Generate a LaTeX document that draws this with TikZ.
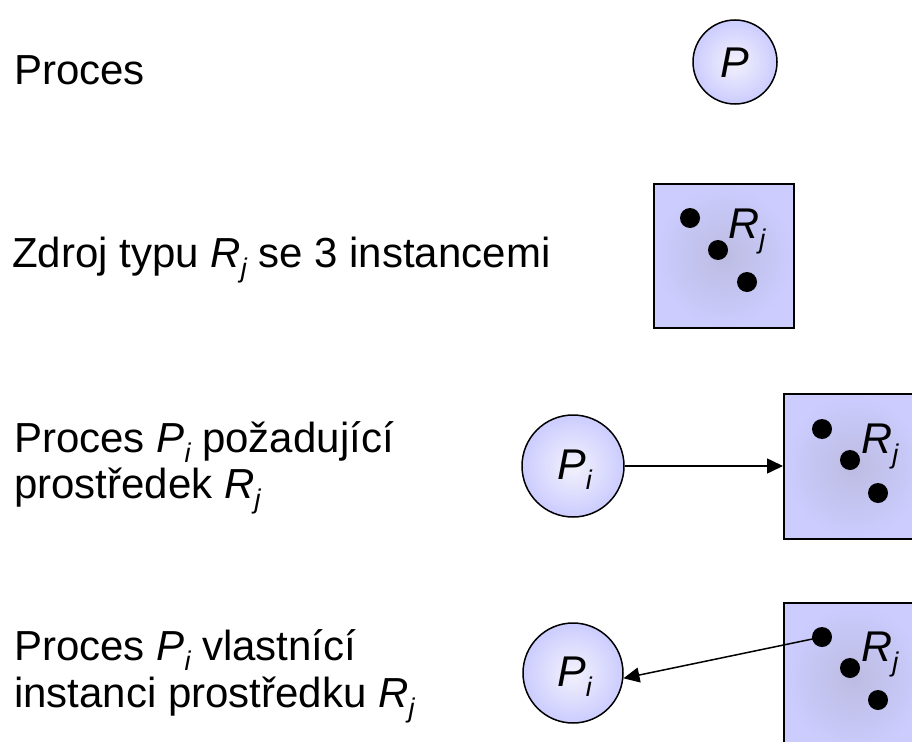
\documentclass[tikz,border=0pt]{standalone}
\usepackage{fontspec}
\setmainfont{Liberation Sans}
\usetikzlibrary{arrows.meta}
\definecolor{lav}{RGB}{204,204,255}
\definecolor{lavlight}{RGB}{242,242,252}
\definecolor{lavdark}{RGB}{188,188,226}
\newcommand\mysub[1]{\raisebox{-10pt}{\fontsize{27}{27}\selectfont\itshape #1}}
\tikzset{
  txt/.style={anchor=base west, inner sep=0pt, font=\fontsize{42}{46}\selectfont},
  proc/.style={circle, draw=black, line width=1.5pt, minimum size=102pt, inner sep=0pt,
    inner color=lavlight, outer color=lav},
  res/.style={rectangle, draw=black, line width=1.8pt, minimum width=140pt, minimum height=144pt,
    inner sep=0pt, inner color=lavdark, outer color=lav, anchor=north west},
  dot/.style={circle, fill=black, minimum size=20pt, inner sep=0pt},
  lbl/.style={anchor=base west, inner sep=0pt, font=\fontsize{43}{43}\selectfont\itshape},
  arr/.style={line width=1.5pt, -{Triangle[length=16pt,width=15pt]}}
}
\begin{document}
\begin{tikzpicture}[x=1pt,y=-1pt]
\useasboundingbox (0,0) rectangle (912,741);
\begin{scope}
\clip (0,0) rectangle (912,741);
% texts
\node[txt] (t1) at (14,85) {Proces};
\node[txt] (t2) at (12,267) {Zdroj typu \textit{R}\mysub{j} se 3 instancemi};
\node[txt] (t3a) at (14,452) {Proces \textit{P}\mysub{i} požadující};
\node[txt] (t3b) at (14,498) {prostředek \textit{R}\mysub{j}};
\node[txt] (t4a) at (14,660) {Proces \textit{P}\mysub{i} vlastnící};
\node[txt] (t4b) at (14,707) {instanci prostředku \textit{R}\mysub{j}};
% row 1
\node[proc, minimum size=84pt] (c1) at (735,62) {};
\node[lbl] (c1l) at (720,78) {P};
% row 2
\node[res] (r2) at (653,183) {};
\node[dot] (d21) at (690,218) {};
\node[dot] (d22) at (718,250) {};
\node[dot] (d23) at (747,282) {};
\node[lbl] (r2l) at (728,238) {R\mysub{j}};
% row 3
\node[proc] (c3) at (573,466) {};
\node[lbl] (c3l) at (557,479) {P\mysub{i}};
\node[res, minimum height=145pt] (r3) at (783,393) {};
\node[dot] (d31) at (822,429) {};
\node[dot] (d32) at (850,460) {};
\node[dot] (d33) at (878,493) {};
\node[lbl] (r3l) at (861,453) {R\mysub{j}};
\draw[arr] (c3) -- (r3.west |- c3);
% row 4
\node[proc, minimum size=100pt] (c4) at (573,673) {};
\node[lbl] (c4l) at (557,686) {P\mysub{i}};
\node[res, minimum height=150pt] (r4) at (783,602) {};
\node[dot] (d41) at (822,637) {};
\node[dot] (d42) at (850,668) {};
\node[dot] (d43) at (878,700) {};
\node[lbl] (r4l) at (861,661) {R\mysub{j}};
\draw[arr] (d41.center) -- (c4.-6);
\end{scope}
\end{tikzpicture}
\end{document}
